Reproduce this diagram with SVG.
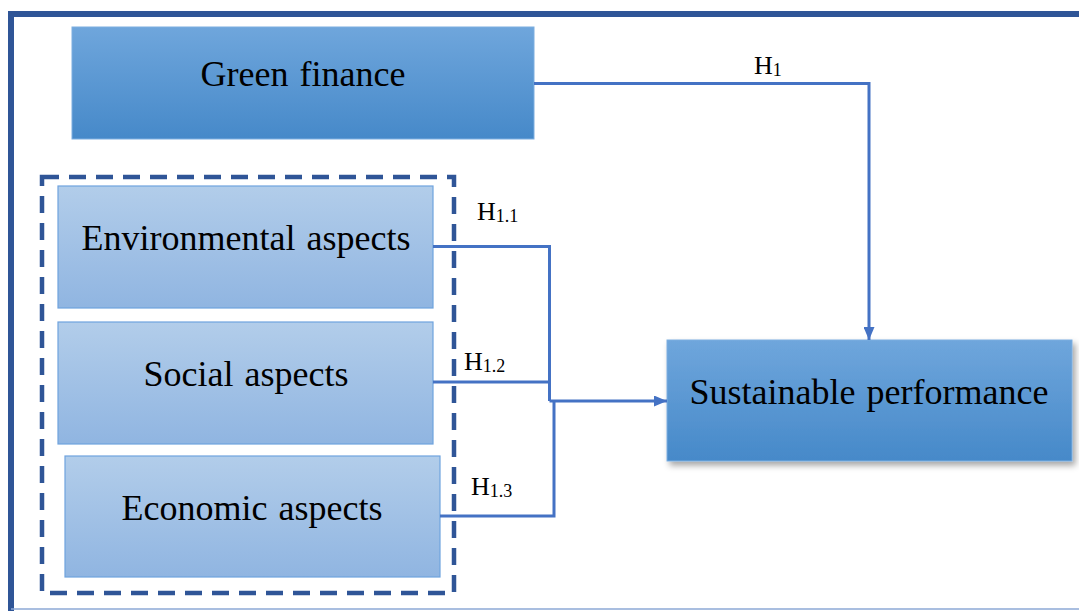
<svg xmlns="http://www.w3.org/2000/svg" width="1079" height="611" viewBox="0 0 1079 611">
<defs>
<linearGradient id="gDark" x1="0" y1="0" x2="0" y2="1"><stop offset="0" stop-color="#6FA6DC"/><stop offset="1" stop-color="#4689C9"/></linearGradient>
<linearGradient id="gLight" x1="0" y1="0" x2="0" y2="1"><stop offset="0" stop-color="#B2CDEA"/><stop offset="1" stop-color="#90B5E1"/></linearGradient>
<filter id="sh" x="-5%" y="-10%" width="115%" height="130%"><feDropShadow dx="3" dy="4" stdDeviation="3" flood-color="#000" flood-opacity="0.35"/></filter>
<marker id="arr" viewBox="0 0 13 11" refX="13" refY="5.5" markerWidth="13" markerHeight="11" markerUnits="userSpaceOnUse" orient="auto"><path d="M0,0 L13,5.5 L0,11 z" fill="#4472C4"/></marker>
</defs>
<style>
.lbl{font-family:"Liberation Serif","Times New Roman",serif;font-size:36px;fill:#000;text-anchor:middle;word-spacing:2px}
.h{font-family:"Liberation Serif","Times New Roman",serif;font-size:26px;fill:#000}
.sub{font-size:18px}
.dark{fill:url(#gDark);stroke:#7DAEE0;stroke-width:1}
.light{fill:url(#gLight);stroke:#6FA3DE;stroke-width:1.2}
.con{fill:none;stroke:#4472C4;stroke-width:3}
</style>
<rect width="1079" height="611" fill="#fff"/>
<g id="frame">
<line x1="8" y1="14" x2="1079" y2="14" stroke="#2F5597" stroke-width="6"/>
<line x1="11" y1="11" x2="11" y2="611" stroke="#2F5597" stroke-width="6"/>
<line x1="11" y1="609" x2="1079" y2="609" stroke="#8CA8D6" stroke-width="1.5"/>
</g>
<g id="group-box">
<rect x="42" y="177" width="412" height="416" fill="none" stroke="#2F5597" stroke-width="4.5" stroke-dasharray="17,10"/>
</g>
<g id="green-finance">
<rect class="dark" x="72" y="27" width="462" height="112"/>
<text class="lbl" x="303" y="86">Green finance</text>
</g>
<g id="environmental">
<rect class="light" x="58" y="186" width="375" height="122"/>
<text class="lbl" x="246" y="250">Environmental aspects</text>
</g>
<g id="social">
<rect class="light" x="58" y="322" width="375" height="122"/>
<text class="lbl" x="246" y="386">Social aspects</text>
</g>
<g id="economic">
<rect class="light" x="65" y="456" width="375" height="121"/>
<text class="lbl" x="252" y="520">Economic aspects</text>
</g>
<g id="sustainable">
<rect class="dark" x="667" y="340" width="405" height="121" filter="url(#sh)"/>
<text class="lbl" x="869" y="404">Sustainable performance</text>
</g>
<g id="connectors">
<path class="con" d="M534,83.5 H869 V340" marker-end="url(#arr)"/>
<path class="con" d="M433,246.5 H549.5 V382"/>
<path class="con" d="M433,382 H549.5 V401"/>
<path class="con" d="M440,516 H554 V401"/>
<path class="con" d="M549.5,401 H667" marker-end="url(#arr)"/>
</g>
<g id="labels">
<text class="h" x="754" y="74">H<tspan class="sub" dy="2">1</tspan></text>
<text class="h" x="477" y="220">H<tspan class="sub" dy="2">1.1</tspan></text>
<text class="h" x="464" y="370">H<tspan class="sub" dy="2">1.2</tspan></text>
<text class="h" x="471" y="495">H<tspan class="sub" dy="2">1.3</tspan></text>
</g>
</svg>
